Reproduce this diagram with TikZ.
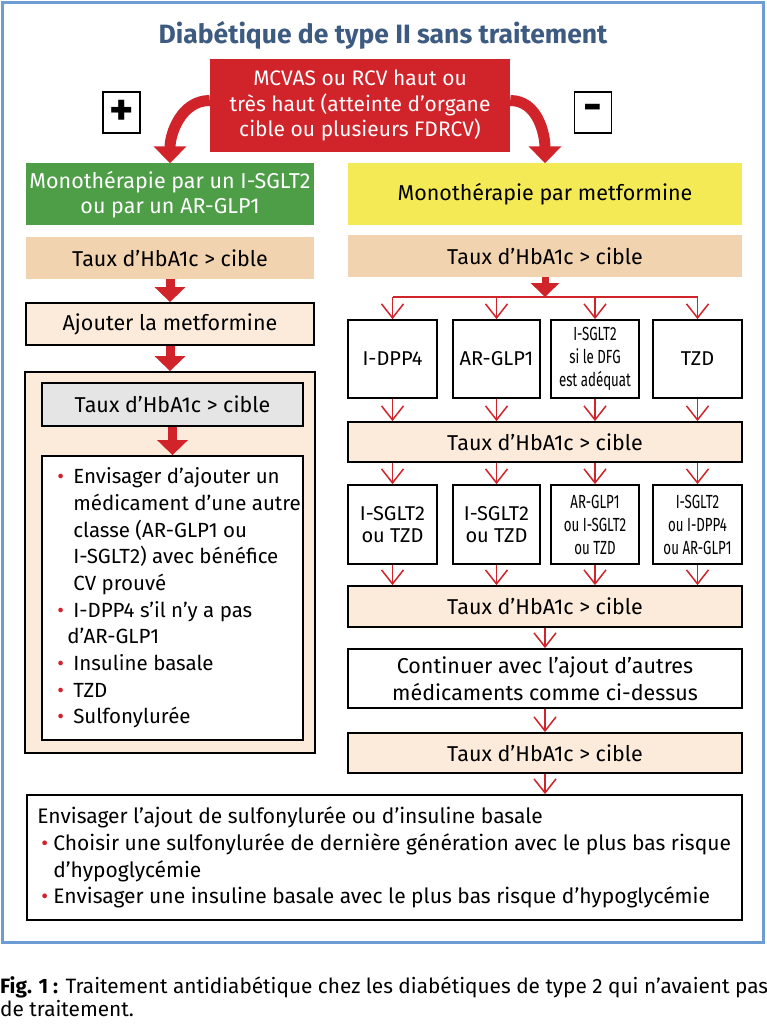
\documentclass[tikz,border=0pt]{standalone}
\usepackage{fontspec}
\setmainfont{Fira Sans}
\newfontfamily\condfont{Fira Sans}[FakeStretch=0.7]
\usetikzlibrary{arrows.meta}

\definecolor{cadre}{HTML}{6E9DD6}
\definecolor{titre}{HTML}{3D5A80}
\definecolor{rouge}{HTML}{D0232A}
\definecolor{vert}{HTML}{4E9E48}
\definecolor{jaune}{HTML}{F4EA55}
\definecolor{sable}{HTML}{F2D3AF}
\definecolor{creme}{HTML}{FCEBDA}
\definecolor{gris}{HTML}{E5E5E5}

\newcommand{\fsz}[2]{\fontsize{#1}{#2}\selectfont}
\newcommand{\puce}[1][16pt]{\makebox[#1][l]{\textcolor{rouge}{\textbullet}}}

\begin{document}
\begin{tikzpicture}[x=1pt,y=1pt,
	aplat/.style={align=center, inner sep=0pt},
	boite/.style={aplat, draw=black, line width=1.8pt},
	taux/.style={aplat, fill=sable, font=\fsz{21.5}{25}},
	tauxcadre/.style={boite, fill=creme, minimum width=394pt, minimum height=40pt, font=\fsz{21.5}{25}},
	medoc/.style={boite, fill=white, font=\fsz{20}{22}},
	signe/.style={boite, fill=white, minimum width=37pt, minimum height=41pt, font=\bfseries\fsz{46}{46}},
	fleche/.style={draw=rouge, line width=1.5pt, -{Straight Barb[length=14pt,width=22pt]}},
	grossefleche/.style={draw=rouge, line width=9pt, -{Triangle[length=15pt,width=30pt]}},
	courbe/.style={draw=rouge, line width=11pt, -{Triangle[length=17pt,width=32pt]}}]
	\useasboundingbox (0,0) rectangle (767,-1024);
	% cadre bleu
	\draw[cadre, line width=3pt] (2.5,-2.5) rectangle (763.5,-942);
	\node[aplat, font=\bfseries\fsz{26.5}{30}, text=titre] (titre) at (383,-35) {Diabétique de type II sans traitement};
	% risque CV
	\node[aplat, fill=rouge, text=white, minimum width=300pt, minimum height=93pt, font=\fsz{21}{25.5}] (risque) at (360,-105.5)
		{MCVAS ou RCV haut ou\\très haut (atteinte d’organe\\cible ou plusieurs FDRCV)};
	\node[signe] (plus) at (121.5,-112.5) {+};
	\node[signe] (moins) at (593,-112.5) {-};
	% monotherapies
	\node[aplat, fill=vert, text=white, minimum width=288pt, minimum height=62pt, font=\fsz{21.5}{25}] (monoA) at (170,-194.5)
		{Monothérapie par un I-SGLT2\\ou par un AR-GLP1};
	\node[aplat, fill=jaune, minimum width=394pt, minimum height=62pt, font=\fsz{21.5}{25}] (monoB) at (545,-194.5) {Monothérapie par metformine};
	\draw[courbe] ([yshift=5pt]risque.west) to[out=180,in=90] (monoA.north);
	\draw[courbe] ([yshift=5pt]risque.east) to[out=0,in=90] (monoB.north);
	% colonne gauche
	\node[taux, minimum width=288pt, minimum height=42pt] (tauxA) at (170,-258) {Taux d’HbA1c > cible};
	\node[boite, fill=creme, minimum width=288pt, minimum height=42pt, font=\fsz{21.5}{25}] (ajout) at (170,-324) {Ajouter la metformine};
	\node[boite, fill=creme, minimum width=290pt, minimum height=381pt] (groupe) at (170,-562.5) {};
	\node[boite, fill=gris, minimum width=261pt, minimum height=43pt, font=\fsz{21.5}{25}] (tauxC) at (172.5,-404.5) {Taux d’HbA1c > cible};
	\node[boite, fill=white, minimum width=261pt, minimum height=284pt] (liste) at (172.5,-598) {};
	\node[aplat, anchor=west, align=left, font=\fsz{20.5}{26.7}] (listetexte) at ([xshift=16pt]liste.west)
		{\puce Envisager d’ajouter un\\
		\hspace*{16pt}médicament d’une autre\\
		\hspace*{16pt}classe (AR-GLP1 ou\\
		\hspace*{16pt}I-SGLT2) avec bénéfice\\
		\hspace*{16pt}CV prouvé\\
		\puce I-DPP4 s’il n’y a pas\\
		\hspace*{10pt}d’AR-GLP1\\
		\puce Insuline basale\\
		\puce TZD\\
		\puce Sulfonylurée};
	\draw[grossefleche] (tauxA.south) -- (ajout.north);
	\draw[grossefleche] (ajout.south) -- (groupe.north);
	\draw[grossefleche] (tauxC.south) -- (liste.north);
	% colonne droite
	\node[taux, minimum width=394pt, minimum height=42pt] (tauxB) at (545,-256) {Taux d’HbA1c > cible};
	\node[medoc, minimum width=89pt, minimum height=78pt] (dA) at (392.5,-359) {I-DPP4};
	\node[medoc, minimum width=87pt, minimum height=78pt] (dB) at (496.5,-359) {AR-GLP1};
	\node[medoc, minimum width=88pt, minimum height=78pt, font=\condfont\fsz{19}{23}] (dC) at (595,-359) {I-SGLT2\\si le DFG\\est adéquat};
	\node[medoc, minimum width=89pt, minimum height=78pt] (dD) at (697.5,-359) {TZD};
	\node[tauxcadre] (tauxD) at (545,-442) {Taux d’HbA1c > cible};
	\node[medoc, minimum width=89pt, minimum height=79pt] (eA) at (392.5,-524.5) {I-SGLT2\\ou TZD};
	\node[medoc, minimum width=87pt, minimum height=79pt] (eB) at (496.5,-524.5) {I-SGLT2\\ou TZD};
	\node[medoc, minimum width=88pt, minimum height=79pt, font=\condfont\fsz{19}{23}] (eC) at (595,-524.5) {AR-GLP1\\ou I-SGLT2\\ou TZD};
	\node[medoc, minimum width=89pt, minimum height=79pt, font=\condfont\fsz{19}{23}] (eD) at (697.5,-524.5) {I-SGLT2\\ou I-DPP4\\ou AR-GLP1};
	\node[tauxcadre, minimum height=41pt] (tauxE) at (545,-606.5) {Taux d’HbA1c > cible};
	\node[boite, fill=white, minimum width=394pt, minimum height=59pt, font=\fsz{21.5}{27}] (suite) at (545,-678.5)
		{Continuer avec l’ajout d’autres\\médicaments comme ci-dessus};
	\node[tauxcadre] (tauxF) at (545,-753) {Taux d’HbA1c > cible};
	% fourche
	\coordinate (fourche) at (545,-297);
	\draw[grossefleche, line width=7pt, -{Triangle[length=14pt,width=28pt]}] (tauxB.south) -- (fourche);
	\draw[rouge, line width=1.5pt] (dA.north |- fourche) -- (dD.north |- fourche);
	\draw[fleche] (dA.north |- fourche) -- (dA.north);
	\draw[fleche] (dB.north |- fourche) -- (dB.north);
	\draw[fleche] (dC.north |- fourche) -- (dC.north);
	\draw[fleche] (dD.north |- fourche) -- (dD.north);
	\draw[fleche] (dA.south) -- (dA.south |- tauxD.north);
	\draw[fleche] (dB.south) -- (dB.south |- tauxD.north);
	\draw[fleche] (dC.south) -- (dC.south |- tauxD.north);
	\draw[fleche] (dD.south) -- (dD.south |- tauxD.north);
	\draw[fleche] (eA.north |- tauxD.south) -- (eA.north);
	\draw[fleche] (eB.north |- tauxD.south) -- (eB.north);
	\draw[fleche] (eC.north |- tauxD.south) -- (eC.north);
	\draw[fleche] (eD.north |- tauxD.south) -- (eD.north);
	\draw[fleche] (eA.south) -- (eA.south |- tauxE.north);
	\draw[fleche] (eB.south) -- (eB.south |- tauxE.north);
	\draw[fleche] (eC.south) -- (eC.south |- tauxE.north);
	\draw[fleche] (eD.south) -- (eD.south |- tauxE.north);
	\draw[fleche] (tauxE.south) -- (suite.north);
	\draw[fleche] (suite.south) -- (tauxF.north);
	% sulfonyluree ou insuline
	\node[boite, fill=white, minimum width=715pt, minimum height=125pt] (final) at (384.5,-857.5) {};
	\node[aplat, anchor=west, align=left, font=\fsz{21}{26.7}] (finaltexte) at ([xshift=11pt]final.west)
		{Envisager l’ajout de sulfonylurée ou d’insuline basale\\
		\hspace*{4pt}\puce[12pt]Choisir une sulfonylurée de dernière génération avec le plus bas risque\\
		\hspace*{16pt}d’hypoglycémie\\
		\hspace*{4pt}\puce[12pt]Envisager une insuline basale avec le plus bas risque d’hypoglycémie};
	\draw[fleche] (tauxF.south) -- (final.north -| tauxF.south);
	% legende
	\node[aplat, anchor=north west, align=left, font=\fsz{20.8}{23}] (legende) at (0,-976)
		{\textbf{Fig. 1 :} Traitement antidiabétique chez les diabétiques de type 2 qui n’avaient pas\\de traitement.};
\end{tikzpicture}
\end{document}
